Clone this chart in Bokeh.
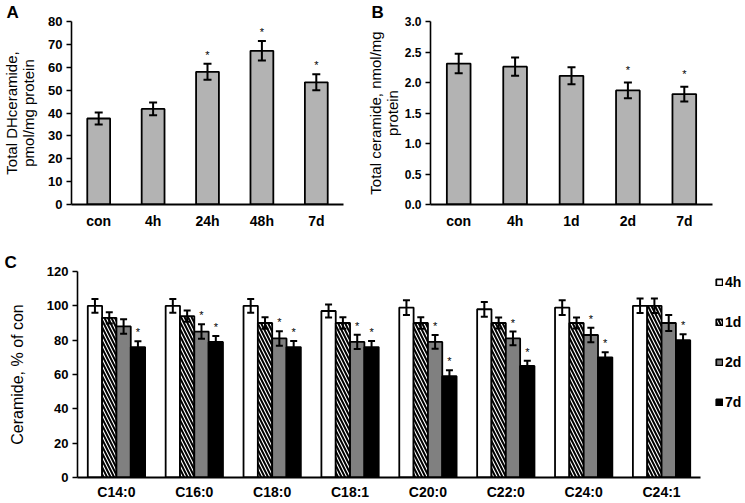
from bokeh.plotting import figure
from bokeh.models import (FactorRange, Range1d, Whisker, TeeHead, ColumnDataSource, Title,
                          Legend, LegendItem, FixedTicker, NumeralTickFormatter)
from bokeh.layouts import column, row
from bokeh.embed import file_html
from bokeh.resources import INLINE
from bokeh.core.properties import value

FONT = "Liberation Sans"

# ---------------- data ----------------
a_cats = ["con", "4h", "24h", "48h", "7d"]
a_vals = [37.6, 41.8, 58.0, 67.2, 53.4]
a_errs = [2.6, 2.8, 3.5, 4.3, 3.5]
a_sig = [False, False, True, True, True]
a_ticks = [0, 10, 20, 30, 40, 50, 60, 70, 80]

b_cats = ["con", "4h", "1d", "2d", "7d"]
b_vals = [2.31, 2.26, 2.11, 1.87, 1.81]
b_errs = [0.16, 0.15, 0.14, 0.13, 0.12]
b_sig = [False, False, False, True, True]
b_ticks = [0.0, 0.5, 1.0, 1.5, 2.0, 2.5, 3.0]

c_cats = ["C14:0", "C16:0", "C18:0", "C18:1", "C20:0", "C22:0", "C24:0", "C24:1"]
c_series = ["4h", "1d", "2d", "7d"]
c_4h = [100, 100, 100, 97, 99, 98, 99, 100]
c_1d = [93, 94, 90, 90, 90, 90, 90, 100]
c_2d = [88, 85, 81, 79, 79, 81, 83, 90]
c_7d = [76, 79, 76, 76, 59, 65, 70, 80]
c_err_4h = [4.0, 4.0, 4.0, 3.8, 4.3, 4.3, 4.3, 4.2]
c_err_1d = [3.3, 3.3, 3.3, 3.3, 3.3, 3.2, 3.2, 4.2]
c_err_2d = [4.2, 4.2, 4.2, 4.2, 4.0, 4.0, 4.2, 4.6]
c_err_7d = [3.4, 3.5, 3.5, 3.5, 3.5, 3.0, 2.9, 3.5]
c_sig_4h = [False, False, False, False, False, False, False, False]
c_sig_1d = [False, False, False, False, False, False, False, False]
c_sig_2d = [False, True, True, True, True, True, True, False]
c_sig_7d = [True, True, True, True, True, True, True, True]
c_ticks = [0, 20, 40, 60, 80, 100, 120]

BAR_GREY = "#b3b3b3"
C_COLORS = {"4h": "white", "1d": "white", "2d": "#808080", "7d": "black"}


def style(p, ticks, tick_size, tick_fmt=None):
    p.xgrid.visible = False
    p.ygrid.visible = False
    p.outline_line_color = None
    p.background_fill_color = "white"
    p.border_fill_color = "white"
    ya = p.yaxis[0]
    ya.ticker = FixedTicker(ticks=ticks)
    if tick_fmt:
        ya.formatter = NumeralTickFormatter(format=tick_fmt)
    ya.axis_line_color = "black"
    ya.axis_line_width = 1.6
    ya.major_tick_line_color = "black"
    ya.major_tick_line_width = 1.6
    ya.major_tick_out = 5
    ya.major_tick_in = 0
    ya.minor_tick_out = 0
    ya.minor_tick_in = 0
    ya.minor_tick_line_color = None
    ya.major_label_text_font = FONT
    ya.major_label_text_font_style = "bold"
    ya.major_label_text_font_size = tick_size
    ya.major_label_text_color = "black"
    ya.major_label_standoff = 4
    ya.axis_label_text_font = FONT
    ya.axis_label_text_font_style = "normal"
    ya.axis_label_text_color = "black"
    ya.axis_label_text_line_height = 1.0
    xa = p.xaxis[0]
    xa.axis_line_color = "black"
    xa.axis_line_width = 1.8
    xa.major_tick_line_color = None
    xa.major_tick_out = 0
    xa.major_tick_in = 0
    xa.minor_tick_out = 0
    xa.minor_tick_in = 0
    xa.minor_tick_line_color = None
    xa.axis_label_standoff = 0
    xa.major_label_text_font = FONT
    xa.major_label_text_font_style = "bold"
    xa.major_label_text_color = "black"
    xa.major_label_text_font_size = "14px"


def letter(p, text, offset):
    p.add_layout(Title(text=text, align="left", offset=offset, standoff=0,
                       text_font=FONT, text_font_style="bold", text_font_size="17px",
                       text_color="black"), "above")


def simple_panel(cats, vals, errs, sig, ticks, ymax, title, fmt, width, height,
                 bl, br, bt, bb, let, let_off, star_off, title_standoff, tick_size):
    p = figure(x_range=FactorRange(*cats), y_range=Range1d(0, ymax), width=width, height=height,
               output_backend="svg", toolbar_location=None,
               min_border_left=bl, min_border_right=br, min_border_top=bt, min_border_bottom=bb)
    style(p, ticks, tick_size, fmt)
    letter(p, let, let_off)
    src = ColumnDataSource(dict(cat=cats, val=vals,
                                upper=[v + e for v, e in zip(vals, errs)],
                                lower=[v - e for v, e in zip(vals, errs)]))
    p.vbar(x="cat", top="val", width=0.42, source=src, fill_color=BAR_GREY,
           line_color="black", line_width=1.8)
    p.add_layout(Whisker(base="cat", upper="upper", lower="lower", source=src, level="overlay",
                         line_color="black", line_width=2,
                         upper_head=TeeHead(size=8, line_width=2, line_color="black"),
                         lower_head=TeeHead(size=8, line_width=2, line_color="black")))
    ssrc = ColumnDataSource(dict(cat=[c for c, s in zip(cats, sig) if s],
                                 y=[v + e for v, e, s in zip(vals, errs, sig) if s]))
    p.text(x="cat", y="y", text=value("*"), source=ssrc, text_font=value(FONT),
           text_font_size="11px", text_align="center", text_baseline="bottom",
           y_offset=-star_off, text_color="black")
    p.yaxis.axis_label = title
    p.yaxis.axis_label_text_font_size = "15px"
    p.yaxis.axis_label_standoff = title_standoff
    p.xaxis.major_label_standoff = 8
    return p


pA = simple_panel(a_cats, a_vals, a_errs, a_sig, a_ticks, 80,
                  "Total DHceramide,\npmol/mg protein", None, 363, 240,
                  68, 20, 16, 36, "A", -65, 3, 8, "13px")
pB = simple_panel(b_cats, b_vals, b_errs, b_sig, b_ticks, 3.0,
                  "Total ceramide, nmol/mg\nprotein", "0.0", 381, 240,
                  67, 32, 21, 36, "B", -59, 7, 1, "12px")

# ---------------- panel C ----------------
n_c = len(c_cats)
c_x = [i + 0.5 for i in range(n_c)]
pC = figure(x_range=Range1d(0, 8.565), y_range=Range1d(0, 120), width=744, height=262,
            output_backend="svg", toolbar_location=None,
            min_border_left=77, min_border_right=0, min_border_top=31, min_border_bottom=22)
style(pC, c_ticks, "13px")
letter(pC, "C", -73)
pC.xaxis.ticker = FixedTicker(ticks=c_x)
pC.xaxis.major_label_overrides = {x: c for x, c in zip(c_x, c_cats)}
pC.xaxis.bounds = (0, n_c)
pC.xaxis.major_label_standoff = 6
pC.yaxis.axis_label = "Ceramide, % of con"
pC.yaxis.axis_label_text_font_size = "16px"
pC.yaxis.axis_label_standoff = 18

series_vals = [c_4h, c_1d, c_2d, c_7d]
series_errs = [c_err_4h, c_err_1d, c_err_2d, c_err_7d]
series_sig = [c_sig_4h, c_sig_1d, c_sig_2d, c_sig_7d]
bw = 0.184
offsets = [-1.5 * bw, -0.5 * bw, 0.5 * bw, 1.5 * bw]
renderers = []
for name, vals, errs, sig, off in zip(c_series, series_vals, series_errs, series_sig, offsets):
    xs = [x + off for x in c_x]
    src = ColumnDataSource(dict(x=xs, val=vals,
                                upper=[v + e for v, e in zip(vals, errs)],
                                lower=[v - e for v, e in zip(vals, errs)]))
    kw = dict(fill_color=C_COLORS[name], line_color="black", line_width=1.8)
    if name == "1d":
        kw.update(hatch_pattern="\\", hatch_color="black", hatch_weight=2.0, hatch_scale=7)
    r = pC.vbar(x="x", top="val", width=bw, source=src, **kw)
    renderers.append(r)
    pC.add_layout(Whisker(base="x", upper="upper", lower="lower", source=src, level="overlay",
                          line_color="black", line_width=2,
                          upper_head=TeeHead(size=7, line_width=2, line_color="black"),
                          lower_head=TeeHead(size=7, line_width=2, line_color="black")))
    ssrc = ColumnDataSource(dict(x=[x for x, s in zip(xs, sig) if s],
                                 y=[v + e for v, e, s in zip(vals, errs, sig) if s]))
    pC.text(x="x", y="y", text=value("*"), source=ssrc,
            text_font=value(FONT), text_font_size="11px", text_align="center",
            text_baseline="bottom", y_offset=-3, text_color="black")

legend = Legend(items=[LegendItem(label=s, renderers=[r]) for s, r in zip(c_series, renderers)],
                location=(638, 65), orientation="vertical")
legend.border_line_color = None
legend.background_fill_alpha = 0
legend.glyph_width = 8
legend.glyph_height = 8
legend.label_text_font = FONT
legend.label_text_font_style = "bold"
legend.label_text_font_size = "14px"
legend.label_text_color = "black"
legend.label_height = 20
legend.label_width = 16
legend.spacing = 20
legend.padding = 2
legend.margin = 0
legend.label_standoff = 2
pC.add_layout(legend)

layout = column(row(pA, pB, spacing=0), pC, spacing=0)

with open("out.html", "w") as f:
    f.write(file_html(layout, INLINE))
